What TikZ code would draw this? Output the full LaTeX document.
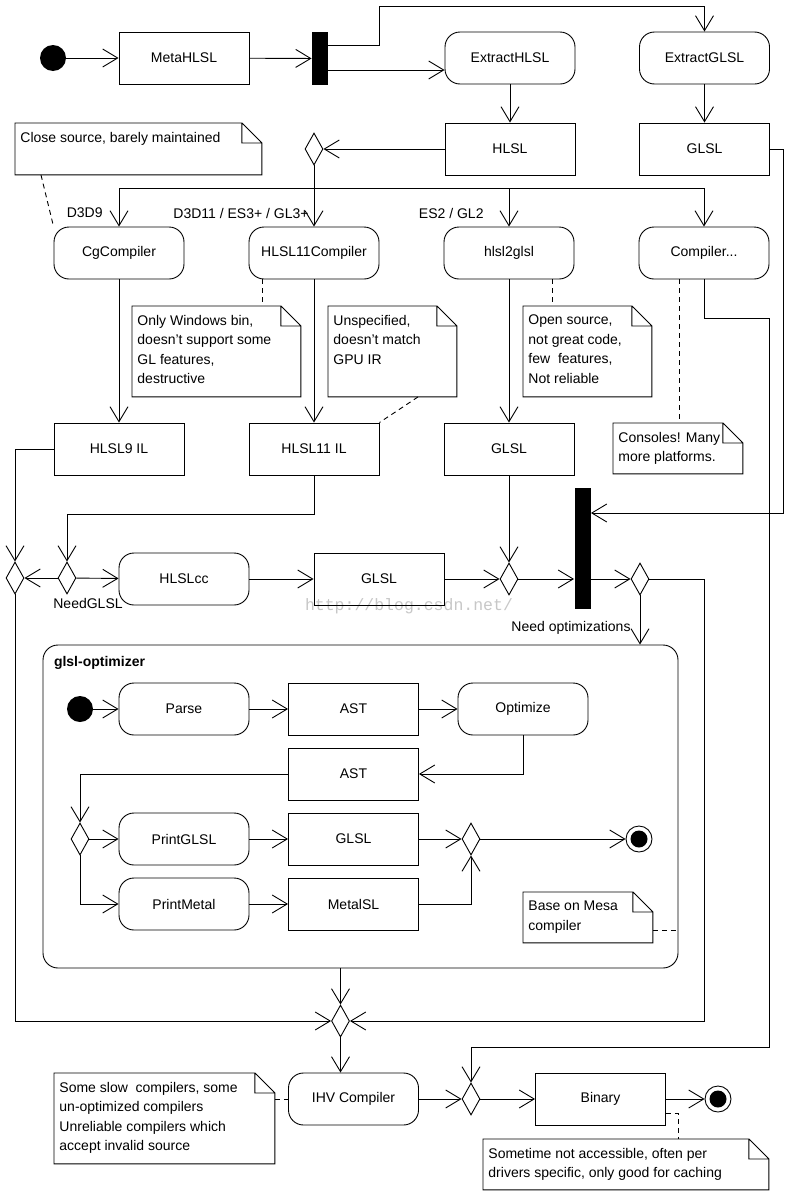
\documentclass[tikz,border=0pt]{standalone}
\usepackage{fontspec}
\setmainfont{Liberation Sans}
\newfontfamily\markfont{Liberation Mono}
\usetikzlibrary{arrows.meta, positioning, shapes.geometric}

% note with a folded corner: name, north west corner, width, height, text
\newcommand\umlnote[5]{%
  \node[notebox, minimum width=#3, minimum height=#4] (#1) at (#2) {};
  \node[notetext] (#1text) at (#1.north west) {#5};
  \draw (#1.north west) -- ([xshift=-20pt]#1.north east) -- ([yshift=-20pt]#1.north east)
        -- (#1.south east) -- (#1.south west) -- cycle
        ([xshift=-20pt]#1.north east) |- ([yshift=-20pt]#1.north east);
}

\begin{document}
\begin{tikzpicture}[x=1pt,y=-1pt,node distance=195pt,line width=0.9pt,
  >={Straight Barb[length=15pt,width=18pt]},
  every node/.style={font=\fontsize{14}{19.5}\selectfont},
  actionbox/.style={draw,rounded corners=15pt,minimum width=130pt,minimum height=52pt,inner sep=0pt},
  objectbox/.style={draw,minimum width=130pt,minimum height=52pt,inner sep=0pt},
  choicebox/.style={draw,diamond,minimum width=18pt,minimum height=32pt,inner sep=0pt},
  forkbar/.style={fill=black,minimum width=16pt,minimum height=#1,inner sep=0pt},
  startdot/.style={circle,fill=black,minimum size=26pt,inner sep=0pt},
  enddot/.style={circle,draw,minimum size=26pt,inner sep=0pt,
    path picture={\fill (path picture bounding box.center) circle (8.5pt);}},
  notebox/.style={anchor=north west,inner sep=0pt},
  notetext/.style={anchor=north west,align=left,inner xsep=5pt,inner ysep=8.5pt},
  notelink/.style={dash pattern=on 5pt off 4pt},
  guardtext/.style={inner sep=1pt}]

  \useasboundingbox (0,0) rectangle (800,1194);

  \node[text=black!22,font=\fontsize{16.5}{18}\selectfont\markfont] (mark) at (409,606) {http://blog.csdn.net/};

  % front end
  \node[startdot]     (start1)      at (53,58)    {};
  \node[objectbox]    (meta)        at (184,58)   {MetaHLSL};
  \node[forkbar=53pt] (fork)        at (320,58.5) {};
  \node[actionbox]    (extractHLSL) at (510,58)   {ExtractHLSL};
  \node[actionbox]    (extractGLSL) at (704.5,58) {ExtractGLSL};
  \node[objectbox]    (hlsl)        at (510,149)  {HLSL};
  \node[objectbox]    (glslA)       at (704.5,149){GLSL};
  \node[choicebox]    (dec1)        at (314,149)  {};

  % compilers
  \node[actionbox] (cg)                         at (119,253) {CgCompiler};
  \node[actionbox] (hlsl11c) [right of=cg]      {HLSL11Compiler};
  \node[actionbox] (h2g)     [right of=hlsl11c] {hlsl2glsl};
  \node[actionbox] (compX)   [right of=h2g]     {Compiler...};

  \node[objectbox] (hlsl9)                       at (119,449) {HLSL9 IL};
  \node[objectbox] (hlsl11il) [right of=hlsl9]   {HLSL11 IL};
  \node[objectbox] (glslB)    [right of=hlsl11il] {GLSL};

  \node[guardtext,anchor=east] (lD3D9) at (104,213) {D3D9};
  \node[guardtext,anchor=east] (lD3D11) at (310,213) {D3D11 / ES3+ / GL3+};
  \node[guardtext,anchor=east] (lES2) at (485,213) {ES2 / GL2};

  % cross compile row
  \node[choicebox] (dL)     at (15,578)   {};
  \node[choicebox] (dNeed)  at (67,578)   {};
  \node[actionbox] (hlslcc) at (184,579)  {HLSLcc};
  \node[objectbox] (glslC)  at (379,579)  {GLSL};
  \node[choicebox] (dJ)     at (509,579)  {};
  \node[forkbar=121pt] (bar) at (582.5,548.5) {};
  \node[choicebox] (dOpt)   at (640,579)  {};
  \node[guardtext] (lNeed) at (88,603) {NeedGLSL};
  \node[guardtext,anchor=east] (lOpt) at (632,628) {Need optimizations};

  % glsl-optimizer
  \node[draw,rounded corners=15pt,minimum width=635pt,minimum height=323pt] (optimizer) at (360.5,806.5) {};
  \node[anchor=west,inner sep=0pt,font=\fontsize{14}{19.5}\selectfont\bfseries] (optTitle)
    at ([xshift=11pt,yshift=-18pt]optimizer.north west) {glsl-optimizer};
  \begin{scope}[node distance=169.5pt]
    \node[startdot]  (start2)   at (80,709)  {};
    \node[actionbox] (parse)    at (184,709) {Parse};
    \node[objectbox] (ast1)     [right of=parse] {AST};
    \node[actionbox] (optimize) [right of=ast1]  {Optimize};
    \node[objectbox] (ast2)     [below of=ast1, node distance=65pt] {AST};
    \node[choicebox] (dSel)     at (80,839)  {};
    \node[actionbox] (printGLSL) at (184,839) {PrintGLSL};
    \node[objectbox] (glsl3)    [right of=printGLSL] {GLSL};
    \node[actionbox] (printMetal) [below of=printGLSL, node distance=65pt] {PrintMetal};
    \node[objectbox] (metalsl)  [right of=printMetal] {MetalSL};
    \node[choicebox] (dMerge2)  at (471,839) {};
    \node[enddot]    (end1)     at (639,839) {};
  \end{scope}

  % back end
  \node[choicebox] (dMerge) at (340.5,1021) {};
  \node[actionbox] (ihv)    at (353.5,1099) {IHV Compiler};
  \node[choicebox] (dFin)   at (471,1099)   {};
  \node[objectbox] (binary) at (600.5,1099) {Binary};
  \node[enddot]    (end2)   at (718,1099)   {};

  % notes
  \umlnote{noteCg}{15,123}{246pt}{51pt}{Close source, barely maintained}
  \umlnote{noteWin}{132,306}{168pt}{90pt}{Only Windows bin,\\doesn't support some\\GL features,\\destructive}
  \umlnote{noteUnspec}{328,306}{128pt}{90pt}{Unspecified,\\doesn't match\\GPU IR}
  \umlnote{noteOpen}{523,306}{128pt}{90pt}{Open source,\\not great code,\\few\ \ features,\\Not reliable}
  \umlnote{noteConsole}{613,423}{129pt}{50pt}{Consoles! Many\\more platforms.}
  \umlnote{noteMesa}{523,892}{129pt}{50pt}{Base on Mesa\\compiler}
  \umlnote{noteIHV}{54,1073}{220pt}{90pt}{Some slow\ \ compilers, some\\un-optimized compilers\\Unreliable compilers which\\accept invalid source}
  \umlnote{noteBin}{483,1139}{285pt}{50pt}{Sometime not accessible, often per\\drivers specific, only good for caching}

  % flows
  \draw[->] (start1) -- (meta);
  \draw[->] (meta) -- (fork);
  \draw[->] (fork.east|-0,45) -| (379,6) -| (extractGLSL.north);
  \draw[->] (fork.east|-0,70) -- (extractHLSL.west|-0,70);
  \draw[->] (extractHLSL) -- (hlsl);
  \draw[->] (extractGLSL) -- (glslA);
  \draw[->] (hlsl) -- (dec1);
  \draw[->] (dec1) -- (hlsl11c);
  \coordinate (split) at (dec1.south|-0,188);
  \draw[->] (split) -| (cg.north);
  \draw[->] (split) -| (h2g.north);
  \draw[->] (split) -| (compX.north);

  \draw[->] (cg) -- (hlsl9);
  \draw[->] (hlsl11c) -- (hlsl11il);
  \draw[->] (h2g) -- (glslB);
  \draw[->] (compX.south) |- (769,318) -- (769,1047) -| (dFin.north);
  \draw[->] (glslA.east) -| (783,513) -- (bar.east|-0,513);

  \draw[->] (hlsl9.west) -| (dL.north);
  \draw[->] (hlsl11il.south) -- ++(0,39) -| (dNeed.north);
  \draw[->] (dNeed) -- (dL);
  \draw[->] (dNeed) -- (hlslcc);
  \draw[->] (hlslcc) -- (glslC);
  \draw[->] (glslC) -- (dJ);
  \draw[->] (glslB) -- (dJ);
  \draw[->] (dJ.east) -- (bar.west|-dJ.east);
  \draw[->] (bar.east|-dOpt.west) -- (dOpt.west);
  \draw[->] (dOpt.south) -- (dOpt.south|-optimizer.north);
  \draw[->] (dOpt.east) -| (704,1021) -- (dMerge.east);
  \draw[->] (dL.south) |- (dMerge.west);

  \draw[->] (start2) -- (parse);
  \draw[->] (parse) -- (ast1);
  \draw[->] (ast1) -- (optimize);
  \draw[->] (optimize.south) |- (ast2.east);
  \draw[->] (ast2.west) -| (dSel.north);
  \draw[->] (dSel) -- (printGLSL);
  \draw[->] (dSel.south) |- (printMetal.west);
  \draw[->] (printGLSL) -- (glsl3);
  \draw[->] (printMetal) -- (metalsl);
  \draw[->] (glsl3) -- (dMerge2);
  \draw[->] (metalsl.east) -| (dMerge2.south);
  \draw[->] (dMerge2) -- (end1);

  \draw[->] (dMerge.north|-optimizer.south) -- (dMerge.north);
  \draw[->] (dMerge.south) -- (dMerge.south|-ihv.north);
  \draw[->] (ihv) -- (dFin);
  \draw[->] (dFin) -- (binary);
  \draw[->] (binary) -- (end2);

  % note links
  \draw[notelink] ([xshift=26pt]noteCg.south west) -- (cg.north west);
  \draw[notelink] (hlsl11c.south-|262,0) -- (noteWin.north-|262,0);
  \draw[notelink] (noteUnspec.south-|418,0) -- (hlsl11il.north east);
  \draw[notelink] (h2g.south-|552,0) -- (noteOpen.north-|552,0);
  \draw[notelink] (compX.south-|679,0) -- (noteConsole.north-|679,0);
  \draw[notelink] (noteMesa.east|-0,930) -- (optimizer.east|-0,930);
  \draw[notelink] (noteIHV.east|-ihv.west) -- (ihv.west);
  \draw[notelink] (binary.east|-0,1113) -| (noteBin.north-|678,0);
\end{tikzpicture}
\end{document}
